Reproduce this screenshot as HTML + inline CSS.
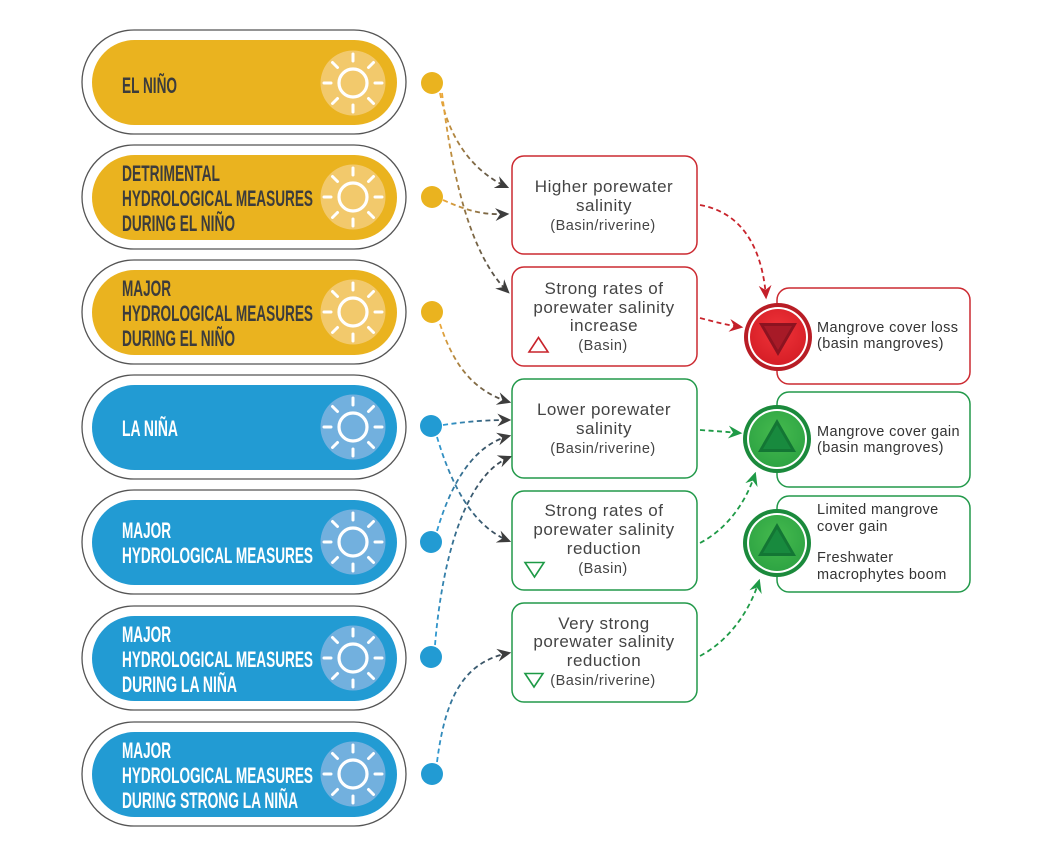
<!DOCTYPE html>
<html><head><meta charset="utf-8"><style>
html,body{margin:0;padding:0;background:#fff;}
svg{display:block;}
.pl{font-family:"Liberation Sans Narrow","Liberation Sans",sans-serif;font-weight:bold;font-size:22px;}
.dk{fill:#3c3c3c;}
.wt{fill:#ffffff;}
.mt{font-family:"Liberation Sans",sans-serif;font-size:17px;letter-spacing:0.5px;fill:#444;text-anchor:middle;}
.ms{font-family:"Liberation Sans",sans-serif;font-size:14.5px;letter-spacing:0.5px;fill:#444;text-anchor:middle;}
.rt{font-family:"Liberation Sans",sans-serif;font-size:14.5px;letter-spacing:0.4px;fill:#333;}
.cn{fill:none;stroke-width:1.8;stroke-dasharray:5 3.5;}
</style></head><body>
<svg width="1045" height="856" viewBox="0 0 1045 856" xmlns="http://www.w3.org/2000/svg">
<defs>
  <marker id="ad" viewBox="0 0 12 12" refX="10" refY="6" markerWidth="14" markerHeight="14" markerUnits="userSpaceOnUse" orient="auto"><path d="M0,0.5 L12,6 L0,11.5 L4,6 z" fill="#3d3d3d"/></marker>
  <marker id="ar" viewBox="0 0 12 12" refX="10" refY="6" markerWidth="14" markerHeight="14" markerUnits="userSpaceOnUse" orient="auto"><path d="M0,0.5 L12,6 L0,11.5 L4,6 z" fill="#C4202A"/></marker>
  <marker id="ag" viewBox="0 0 12 12" refX="10" refY="6" markerWidth="14" markerHeight="14" markerUnits="userSpaceOnUse" orient="auto"><path d="M0,0.5 L12,6 L0,11.5 L4,6 z" fill="#1E9A46"/></marker>
  <linearGradient id="gy1" gradientUnits="userSpaceOnUse" x1="440" y1="93" x2="507" y2="187"><stop offset="0" stop-color="#EDA93A"/><stop offset="1" stop-color="#4a4a4a"/></linearGradient>
  <linearGradient id="gy2" gradientUnits="userSpaceOnUse" x1="442" y1="93" x2="508" y2="292"><stop offset="0" stop-color="#EDA93A"/><stop offset="1" stop-color="#4a4a4a"/></linearGradient>
  <linearGradient id="gy3" gradientUnits="userSpaceOnUse" x1="443" y1="200" x2="507" y2="214"><stop offset="0" stop-color="#EDA93A"/><stop offset="1" stop-color="#4a4a4a"/></linearGradient>
  <linearGradient id="gy4" gradientUnits="userSpaceOnUse" x1="440" y1="324" x2="509" y2="402"><stop offset="0" stop-color="#EDA93A"/><stop offset="1" stop-color="#4a4a4a"/></linearGradient>
  <linearGradient id="gb5" gradientUnits="userSpaceOnUse" x1="443" y1="425" x2="509" y2="420"><stop offset="0" stop-color="#2F9CD6"/><stop offset="1" stop-color="#3d4650"/></linearGradient>
  <linearGradient id="gb6" gradientUnits="userSpaceOnUse" x1="437" y1="437" x2="509" y2="541"><stop offset="0" stop-color="#2F9CD6"/><stop offset="1" stop-color="#3d4650"/></linearGradient>
  <linearGradient id="gb7" gradientUnits="userSpaceOnUse" x1="437" y1="531" x2="509" y2="436"><stop offset="0" stop-color="#2F9CD6"/><stop offset="1" stop-color="#3d4650"/></linearGradient>
  <linearGradient id="gb8" gradientUnits="userSpaceOnUse" x1="435" y1="645" x2="510" y2="457"><stop offset="0" stop-color="#2F9CD6"/><stop offset="1" stop-color="#3d4650"/></linearGradient>
  <linearGradient id="gb9" gradientUnits="userSpaceOnUse" x1="437" y1="762" x2="509" y2="653"><stop offset="0" stop-color="#2F9CD6"/><stop offset="1" stop-color="#3d4650"/></linearGradient>
  <radialGradient id="rin" cx="0.5" cy="0.4" r="0.6"><stop offset="0" stop-color="#F0343A"/><stop offset="1" stop-color="#D61E26"/></radialGradient>
  <radialGradient id="gin" cx="0.5" cy="0.4" r="0.6"><stop offset="0" stop-color="#45BA4E"/><stop offset="1" stop-color="#2EA443"/></radialGradient>
  <g id="sunY">
    <circle r="32.5" fill="#F2C96C"/>
    <circle r="14" fill="none" stroke="#fff" stroke-width="3.2"/>
    <g stroke="#fff" stroke-width="3" stroke-linecap="round">
      <line x1="0" y1="-22" x2="0" y2="-29"/><line x1="0" y1="22" x2="0" y2="29"/>
      <line x1="-22" y1="0" x2="-29" y2="0"/><line x1="22" y1="0" x2="29" y2="0"/>
      <line x1="15.5" y1="-15.5" x2="20.5" y2="-20.5"/><line x1="-15.5" y1="-15.5" x2="-20.5" y2="-20.5"/>
      <line x1="15.5" y1="15.5" x2="20.5" y2="20.5"/><line x1="-15.5" y1="15.5" x2="-20.5" y2="20.5"/>
    </g>
  </g>
  <g id="sunB">
    <circle r="32.5" fill="#72B0DE"/>
    <circle r="14" fill="none" stroke="#fff" stroke-width="3.2"/>
    <g stroke="#fff" stroke-width="3" stroke-linecap="round">
      <line x1="0" y1="-22" x2="0" y2="-29"/><line x1="0" y1="22" x2="0" y2="29"/>
      <line x1="-22" y1="0" x2="-29" y2="0"/><line x1="22" y1="0" x2="29" y2="0"/>
      <line x1="15.5" y1="-15.5" x2="20.5" y2="-20.5"/><line x1="-15.5" y1="-15.5" x2="-20.5" y2="-20.5"/>
      <line x1="15.5" y1="15.5" x2="20.5" y2="20.5"/><line x1="-15.5" y1="15.5" x2="-20.5" y2="20.5"/>
    </g>
  </g>
</defs>

<!-- PILLS -->
<g>
  <rect x="82" y="30" width="324" height="104" rx="52" fill="#fff" stroke="#555" stroke-width="1.3"/>
  <rect x="92" y="40" width="305" height="85" rx="42.5" fill="#EAB31F"/>
  <use href="#sunY" x="353" y="83"/>
  <text class="pl dk" x="122" y="93" textLength="55" lengthAdjust="spacingAndGlyphs">EL NIÑO</text>

  <rect x="82" y="145" width="324" height="104" rx="52" fill="#fff" stroke="#555" stroke-width="1.3"/>
  <rect x="92" y="155" width="305" height="85" rx="42.5" fill="#EAB31F"/>
  <use href="#sunY" x="353" y="197"/>
  <text class="pl dk" x="122" y="181" textLength="98" lengthAdjust="spacingAndGlyphs">DETRIMENTAL</text>
  <text class="pl dk" x="122" y="206" textLength="191" lengthAdjust="spacingAndGlyphs">HYDROLOGICAL MEASURES</text>
  <text class="pl dk" x="122" y="231" textLength="113" lengthAdjust="spacingAndGlyphs">DURING EL NIÑO</text>

  <rect x="82" y="260" width="324" height="104" rx="52" fill="#fff" stroke="#555" stroke-width="1.3"/>
  <rect x="92" y="270" width="305" height="85" rx="42.5" fill="#EAB31F"/>
  <use href="#sunY" x="353" y="312"/>
  <text class="pl dk" x="122" y="296" textLength="49" lengthAdjust="spacingAndGlyphs">MAJOR</text>
  <text class="pl dk" x="122" y="321" textLength="191" lengthAdjust="spacingAndGlyphs">HYDROLOGICAL MEASURES</text>
  <text class="pl dk" x="122" y="346" textLength="113" lengthAdjust="spacingAndGlyphs">DURING EL NIÑO</text>

  <rect x="82" y="375" width="324" height="104" rx="52" fill="#fff" stroke="#555" stroke-width="1.3"/>
  <rect x="92" y="385" width="305" height="85" rx="42.5" fill="#229BD3"/>
  <use href="#sunB" x="353" y="427"/>
  <text class="pl wt" x="122" y="436" textLength="56" lengthAdjust="spacingAndGlyphs">LA NIÑA</text>

  <rect x="82" y="490" width="324" height="104" rx="52" fill="#fff" stroke="#555" stroke-width="1.3"/>
  <rect x="92" y="500" width="305" height="85" rx="42.5" fill="#229BD3"/>
  <use href="#sunB" x="353" y="542"/>
  <text class="pl wt" x="122" y="538" textLength="49" lengthAdjust="spacingAndGlyphs">MAJOR</text>
  <text class="pl wt" x="122" y="563" textLength="191" lengthAdjust="spacingAndGlyphs">HYDROLOGICAL MEASURES</text>

  <rect x="82" y="606" width="324" height="104" rx="52" fill="#fff" stroke="#555" stroke-width="1.3"/>
  <rect x="92" y="616" width="305" height="85" rx="42.5" fill="#229BD3"/>
  <use href="#sunB" x="353" y="658"/>
  <text class="pl wt" x="122" y="642" textLength="49" lengthAdjust="spacingAndGlyphs">MAJOR</text>
  <text class="pl wt" x="122" y="667" textLength="191" lengthAdjust="spacingAndGlyphs">HYDROLOGICAL MEASURES</text>
  <text class="pl wt" x="122" y="692" textLength="115" lengthAdjust="spacingAndGlyphs">DURING LA NIÑA</text>

  <rect x="82" y="722" width="324" height="104" rx="52" fill="#fff" stroke="#555" stroke-width="1.3"/>
  <rect x="92" y="732" width="305" height="85" rx="42.5" fill="#229BD3"/>
  <use href="#sunB" x="353" y="774"/>
  <text class="pl wt" x="122" y="758" textLength="49" lengthAdjust="spacingAndGlyphs">MAJOR</text>
  <text class="pl wt" x="122" y="783" textLength="191" lengthAdjust="spacingAndGlyphs">HYDROLOGICAL MEASURES</text>
  <text class="pl wt" x="122" y="808" textLength="176" lengthAdjust="spacingAndGlyphs">DURING STRONG LA NIÑA</text>
</g>

<!-- DOTS -->
<g>
  <circle cx="432" cy="83" r="11" fill="#EAB31F"/>
  <circle cx="432" cy="197" r="11" fill="#EAB31F"/>
  <circle cx="432" cy="312" r="11" fill="#EAB31F"/>
  <circle cx="431" cy="426" r="11" fill="#229BD3"/>
  <circle cx="431" cy="542" r="11" fill="#229BD3"/>
  <circle cx="431" cy="657" r="11" fill="#229BD3"/>
  <circle cx="432" cy="774" r="11" fill="#229BD3"/>
</g>

<!-- CONNECTORS left -->
<g>
  <path class="cn" stroke="url(#gy1)" marker-end="url(#ad)" d="M440,93 C448,135 470,170 507,187"/>
  <path class="cn" stroke="url(#gy2)" marker-end="url(#ad)" d="M442,93 C452,175 470,255 508,292"/>
  <path class="cn" stroke="url(#gy3)" marker-end="url(#ad)" d="M443,200 C470,212 485,215 507,214"/>
  <path class="cn" stroke="url(#gy4)" marker-end="url(#ad)" d="M440,324 C452,360 470,390 509,402"/>
  <path class="cn" stroke="url(#gb5)" marker-end="url(#ad)" d="M443,425 C470,421 490,420 509,420"/>
  <path class="cn" stroke="url(#gb6)" marker-end="url(#ad)" d="M437,437 C450,480 470,525 509,541"/>
  <path class="cn" stroke="url(#gb7)" marker-end="url(#ad)" d="M437,531 C452,480 475,445 509,436"/>
  <path class="cn" stroke="url(#gb8)" marker-end="url(#ad)" d="M435,645 C442,560 465,475 510,457"/>
  <path class="cn" stroke="url(#gb9)" marker-end="url(#ad)" d="M437,762 C445,700 462,662 509,653"/>
</g>

<!-- MIDDLE BOXES -->
<g>
  <rect x="512" y="156" width="185" height="98" rx="12" fill="#fff" stroke="#CC2A31" stroke-width="1.5"/>
  <text class="mt" x="604" y="192">Higher porewater</text>
  <text class="mt" x="604" y="211">salinity</text>
  <text class="ms" x="603" y="230">(Basin/riverine)</text>

  <rect x="512" y="267" width="185" height="99" rx="12" fill="#fff" stroke="#CC2A31" stroke-width="1.5"/>
  <text class="mt" x="604" y="294">Strong rates of</text>
  <text class="mt" x="604" y="313">porewater salinity</text>
  <text class="mt" x="604" y="331">increase</text>
  <text class="ms" x="603" y="350">(Basin)</text>
  <polygon points="529,352 548,352 538.5,337.5" fill="none" stroke="#C8232B" stroke-width="1.6"/>

  <rect x="512" y="379" width="185" height="99" rx="12" fill="#fff" stroke="#22994A" stroke-width="1.5"/>
  <text class="mt" x="604" y="415">Lower porewater</text>
  <text class="mt" x="604" y="434">salinity</text>
  <text class="ms" x="603" y="453">(Basin/riverine)</text>

  <rect x="512" y="491" width="185" height="99" rx="12" fill="#fff" stroke="#22994A" stroke-width="1.5"/>
  <text class="mt" x="604" y="516">Strong rates of</text>
  <text class="mt" x="604" y="535">porewater salinity</text>
  <text class="mt" x="604" y="554">reduction</text>
  <text class="ms" x="603" y="573">(Basin)</text>
  <polygon points="525,562.5 544,562.5 534.5,577" fill="none" stroke="#1E9A46" stroke-width="1.6"/>

  <rect x="512" y="603" width="185" height="99" rx="12" fill="#fff" stroke="#22994A" stroke-width="1.5"/>
  <text class="mt" x="604" y="629">Very strong</text>
  <text class="mt" x="604" y="647">porewater salinity</text>
  <text class="mt" x="604" y="666">reduction</text>
  <text class="ms" x="603" y="685">(Basin/riverine)</text>
  <polygon points="525,673.5 543,673.5 534,687" fill="none" stroke="#1E9A46" stroke-width="1.6"/>
</g>

<!-- CONNECTORS right -->
<g>
  <path class="cn" stroke="#C8232B" marker-end="url(#ar)" d="M700,205 C740,212 762,245 766,297"/>
  <path class="cn" stroke="#C8232B" marker-end="url(#ar)" d="M700,318 C715,322 727,325 741,327"/>
  <path class="cn" stroke="#1E9A46" marker-end="url(#ag)" d="M700,430 C715,431 728,432 740,433"/>
  <path class="cn" stroke="#1E9A46" marker-end="url(#ag)" d="M700,543 C725,530 745,505 755,474"/>
  <path class="cn" stroke="#1E9A46" marker-end="url(#ag)" d="M700,656 C730,640 750,610 759,581"/>
</g>

<!-- RIGHT BOXES -->
<g>
  <rect x="777" y="288" width="193" height="96" rx="12" fill="#fff" stroke="#CC2A31" stroke-width="1.5"/>
  <rect x="777" y="392" width="193" height="95" rx="12" fill="#fff" stroke="#22994A" stroke-width="1.5"/>
  <rect x="777" y="496" width="193" height="96" rx="12" fill="#fff" stroke="#22994A" stroke-width="1.5"/>

  <text class="rt" x="817" y="332">Mangrove cover loss</text>
  <text class="rt" x="817" y="348">(basin mangroves)</text>
  <text class="rt" x="817" y="436">Mangrove cover gain</text>
  <text class="rt" x="817" y="452">(basin mangroves)</text>
  <text class="rt" x="817" y="514">Limited mangrove</text>
  <text class="rt" x="817" y="531">cover gain</text>
  <text class="rt" x="817" y="562">Freshwater</text>
  <text class="rt" x="817" y="579">macrophytes boom</text>

  <!-- red icon -->
  <circle cx="778" cy="337" r="34" fill="#B81D25"/>
  <circle cx="778" cy="337" r="30" fill="#fff"/>
  <circle cx="778" cy="337" r="28" fill="url(#rin)"/>
  <polygon points="759,323 797,323 778,356" fill="#8C1320"/>
  <polygon points="764,326 792,326 778,350" fill="#A71A27"/>

  <!-- green icons -->
  <circle cx="777" cy="439" r="34" fill="#1B8A3C"/>
  <circle cx="777" cy="439" r="30" fill="#fff"/>
  <circle cx="777" cy="439" r="28" fill="url(#gin)"/>
  <polygon points="758,452 796,452 777,419" fill="#137634"/>
  <polygon points="763,449 791,449 777,425" fill="#188A3E"/>

  <circle cx="777" cy="543" r="34" fill="#1B8A3C"/>
  <circle cx="777" cy="543" r="30" fill="#fff"/>
  <circle cx="777" cy="543" r="28" fill="url(#gin)"/>
  <polygon points="758,556 796,556 777,523" fill="#137634"/>
  <polygon points="763,553 791,553 777,529" fill="#188A3E"/>
</g>
</svg>
</body></html>
